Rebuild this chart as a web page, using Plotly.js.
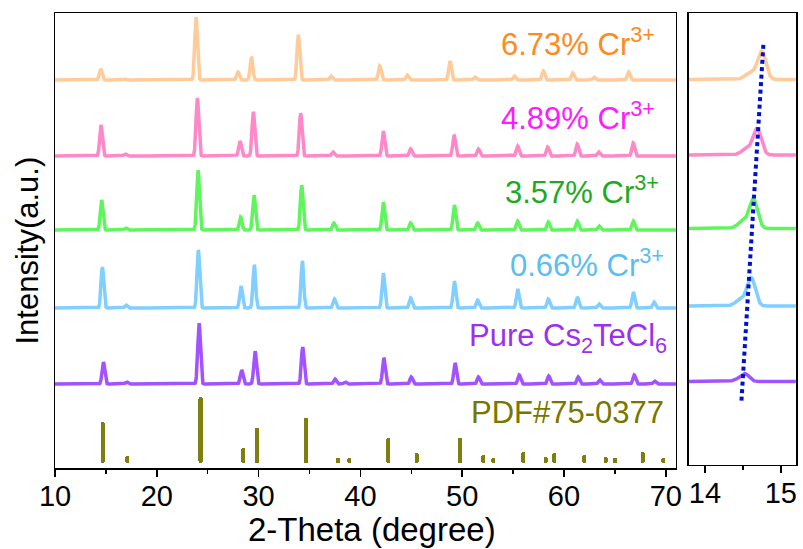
<!DOCTYPE html>
<html><head><meta charset="utf-8">
<script src="https://cdn.plot.ly/plotly-3.0.1.min.js"></script>
<style>body{margin:0;background:#fff}#chart{width:803px;height:549px}</style>
</head><body><div id="chart"></div>
<script>
// ---- data ----
const sampleLabels = ["6.73% Cr<sup>3+</sup>", "4.89% Cr<sup>3+</sup>", "3.57% Cr<sup>3+</sup>", "0.66% Cr<sup>3+</sup>", "Pure Cs<sub>2</sub>TeCl<sub>6</sub>"];
const stackOffsets = [388, 312, 238, 160, 84];

const pos673 = [14.49, 16.9, 23.85, 27.97, 29.3, 33.9, 37.1, 41.9, 44.6, 48.8, 51.26, 55.12, 57.97, 60.85, 62.95, 66.35];
const h673   = [11, 1, 63, 8, 23, 45, 4, 14, 5, 19, 3, 4, 9, 7, 3, 8];

const pos489 = [14.52, 16.9, 23.98, 28.17, 29.48, 34.13, 37.3, 42.25, 44.94, 49.2, 51.6, 55.45, 58.4, 61.3, 63.4, 66.8];
const h489   = [31, 2, 58, 15, 44, 43, 4, 25, 7, 21, 7, 10, 9, 12, 4, 13];

const pos357 = [14.58, 16.97, 24.05, 28.24, 29.55, 34.23, 37.4, 42.25, 44.94, 49.23, 51.52, 55.45, 58.46, 61.31, 63.44, 66.81];
const h357   = [30, 2, 60, 13, 35, 45, 7, 28, 7, 25, 7, 9, 8, 9, 4, 9];

const pos066 = [14.65, 16.97, 24.08, 28.27, 29.58, 34.3, 37.45, 42.25, 44.94, 49.23, 51.52, 55.45, 58.46, 61.31, 63.44, 66.81, 68.84];
const h066   = [41, 3, 58, 22, 43, 47, 9, 35, 10, 27, 8, 19, 9, 11, 4, 16, 6];

const posPure = [14.75, 17.04, 24.15, 28.33, 29.65, 34.33, 37.5, 38.5, 42.3, 45.0, 49.3, 51.6, 55.6, 58.5, 61.4, 63.5, 66.9, 68.9];
const hPure   = [22, 2, 61, 14, 33, 37, 5, 2, 26, 7, 21, 7, 9, 8, 7, 4, 9, 3];

const pdfPos = [14.7, 17.1, 24.3, 28.5, 29.85, 34.65, 37.8, 38.9, 42.74, 45.53, 49.78, 52.07, 53.06, 56.0, 58.2, 59.05, 62.0, 64.1, 65.0, 67.73, 69.76];
const pdfH   = [41, 7, 66, 15, 35, 45, 5, 5, 25, 10, 25, 8, 5, 11, 6, 10, 8, 6, 5, 11, 5];
const pdfBase = 5;

// zoomed (200) reflection, right panel
const zoomPeakPos = [14.75, 14.69, 14.64, 14.61, 14.53];
const zoomPeakH   = [28, 26, 29, 28, 7];
const zoomShoulderPos = [14.6, 14.55, 14.5, 14.47, 14.45];
const zoomShoulderH   = [7, 6, 7, 6, 2];
const shiftLineX = [14.77, 14.48];
const shiftLineY = [423, 63];

const xTickLabels = ["10", "20", "30", "40", "50", "60", "70"];

// ---- styles ----
const lineColors = ["#FFCB9A", "#FF88C8", "#60F55C", "#80CFFF", "#A352FF"];
const textColors = ["#FF8A1E", "#FF1AFF", "#1DAA1D", "#5BBDF0", "#9B30F0"];
const pdfColor = "#7F7F10";
const FONT = "Liberation Sans, Arial, sans-serif";

function profile(grid, pos, h, sigma, base) {
  return grid.map(x => {
    let y = base;
    for (let i = 0; i < pos.length; i++) {
      const d = x - pos[i];
      y += h[i] * Math.exp(-d * d / (2 * sigma * sigma));
    }
    return y;
  });
}

const mainGrid = [];
for (let x = 10; x <= 71.0001; x += 0.02) mainGrid.push(+x.toFixed(3));
const zoomGrid = [];
for (let x = 13.79; x <= 15.2001; x += 0.004) zoomGrid.push(+x.toFixed(4));

const mainPos = [pos673, pos489, pos357, pos066, posPure];
const mainH = [h673, h489, h357, h066, hPure];

const traces = [];
for (let s = 0; s < 5; s++) {
  traces.push({
    type: "scatter", mode: "lines", x: mainGrid,
    y: profile(mainGrid, mainPos[s], mainH[s], 0.13, stackOffsets[s]),
    line: {color: lineColors[s], width: 3.5}, xaxis: "x", yaxis: "y", hoverinfo: "skip"
  });
}
traces.push({
  type: "bar", x: pdfPos, y: pdfH, base: pdfBase, width: 0.42,
  marker: {color: pdfColor, cornerradius: 2, line: {width: 0}},
  xaxis: "x", yaxis: "y", hoverinfo: "skip"
});
for (let s = 0; s < 5; s++) {
  const yMain = profile(zoomGrid, [zoomPeakPos[s]], [zoomPeakH[s]], 0.055, stackOffsets[s]);
  const ySh = profile(zoomGrid, [zoomShoulderPos[s]], [zoomShoulderH[s]], 0.07, 0);
  traces.push({
    type: "scatter", mode: "lines", x: zoomGrid,
    y: yMain.map((v, i) => v + ySh[i]),
    line: {color: lineColors[s], width: 3.5}, xaxis: "x2", yaxis: "y2", hoverinfo: "skip"
  });
}
traces.push({
  type: "scatter", mode: "lines", x: shiftLineX, y: shiftLineY,
  line: {color: "#0010CC", width: 4, dash: "4px,3.5px"}, xaxis: "x2", yaxis: "y2", hoverinfo: "skip"
});

const axisStyle = {
  showline: true, mirror: true, linecolor: "#000", linewidth: 1.5,
  showgrid: false, zeroline: false
};

const labelX = [69.1, 69.1, 69.5, 70.0, 70.3, 70.0];
const labelY = [426, 352, 278, 205, 130, 56];
const annots = [];
for (let s = 0; s < 5; s++) {
  annots.push({text: sampleLabels[s], x: labelX[s], y: labelY[s], xref: "x", yref: "y",
    xanchor: "right", yanchor: "middle", showarrow: false,
    font: {family: FONT, size: 31, color: textColors[s]}});
}
annots.push({text: "PDF#75-0377", x: labelX[5], y: labelY[5], xref: "x", yref: "y",
  xanchor: "right", yanchor: "middle", showarrow: false,
  font: {family: FONT, size: 31, color: "#777700"}});
annots.push({text: "Intensity(a.u.)", x: -(55 - 27) / 741, y: 0.5 - 10 / 455, xref: "paper", yref: "paper",
  xanchor: "center", yanchor: "middle", textangle: -90, showarrow: false,
  font: {family: FONT, size: 31, color: "#000"}});
annots.push({text: "2-Theta (degree)", x: (372 - 55) / 741, y: -(529 - 468) / 455, xref: "paper", yref: "paper",
  showarrow: false, font: {family: FONT, size: 33, color: "#000"}, yanchor: "middle", xanchor: "center"});

const layout = {
  width: 803, height: 549,
  margin: {l: 55, r: 7, t: 13, b: 81},
  paper_bgcolor: "#fff", plot_bgcolor: "#fff",
  showlegend: false, bargap: 0,
  xaxis: Object.assign({}, axisStyle, {
    domain: [0, 0.838], range: [10, 71], anchor: "y",
    tickmode: "array", tickvals: [10, 20, 30, 40, 50, 60, 70], ticktext: xTickLabels,
    ticks: "outside", ticklen: 7, tickwidth: 1.5, tickcolor: "#000", ticklabelstandoff: -5,
    minor: {tickmode: "array", tickvals: [15, 25, 35, 45, 55, 65], ticks: "outside", ticklen: 4, tickwidth: 1.5, tickcolor: "#000"},
    tickfont: {family: FONT, size: 29, color: "#000"}
  }),
  yaxis: Object.assign({}, axisStyle, {range: [0, 455], showticklabels: false, ticks: "", anchor: "x"}),
  xaxis2: Object.assign({}, axisStyle, {
    domain: [0.8556, 1], range: [13.79, 15.2], anchor: "y2",
    tickmode: "array", tickvals: [14, 15], ticktext: ["14", "15"],
    ticks: "outside", ticklen: 7, tickwidth: 1.5, tickcolor: "#000", ticklabelstandoff: -5,
    minor: {tickmode: "array", tickvals: [14.5], ticks: "outside", ticklen: 4, tickwidth: 1.5, tickcolor: "#000"},
    tickfont: {family: FONT, size: 29, color: "#000"}
  }),
  yaxis2: Object.assign({}, axisStyle, {range: [0, 455], showticklabels: false, ticks: "", anchor: "x2", domain: [0.0066, 1]}),
  annotations: annots
};

Plotly.newPlot("chart", traces, layout, {staticPlot: true, displayModeBar: false});
</script>
</body></html>
